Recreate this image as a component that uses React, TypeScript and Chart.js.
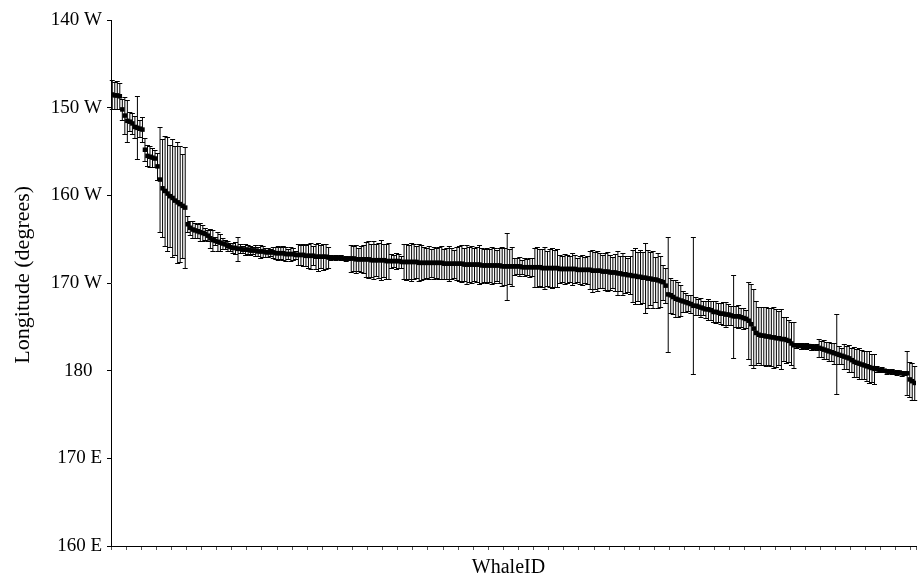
import { useEffect, useRef } from 'react';
import { Chart, registerables } from 'chart.js';

Chart.register(...registerables);

// Longitude in degrees west (180 = dateline, 190 = 170 E, 200 = 160 E), sorted by whale
const means: number[] = [
  148.5, 148.6, 148.6, 148.7, 150.2, 150.9, 151.5, 151.6, 151.8, 152.2,
  152.3, 152.4, 152.5, 154.8, 155.5, 155.6, 155.7, 155.8, 156.7, 158.2,
  159.2, 159.5, 159.8, 160.1, 160.3, 160.6, 160.8, 161.0, 161.2, 161.4,
  163.3, 163.7, 163.9, 164.0, 164.1, 164.2, 164.3, 164.4, 164.6, 164.9,
  165.1, 165.2, 165.3, 165.4, 165.5, 165.6, 165.8, 165.9, 166.0, 166.0,
  166.1, 166.1, 166.2, 166.2, 166.2, 166.3, 166.3, 166.3, 166.4, 166.4,
  166.4, 166.5, 166.5, 166.5, 166.5, 166.6, 166.6, 166.6, 166.6, 166.7,
  166.7, 166.7, 166.7, 166.8, 166.8, 166.8, 166.8, 166.9, 166.9, 166.9,
  166.9, 167.0, 167.0, 167.0, 167.0, 167.0, 167.1, 167.1, 167.1, 167.1,
  167.1, 167.1, 167.2, 167.2, 167.2, 167.2, 167.2, 167.3, 167.3, 167.3,
  167.3, 167.3, 167.3, 167.4, 167.4, 167.4, 167.4, 167.4, 167.4, 167.5,
  167.5, 167.5, 167.5, 167.5, 167.5, 167.6, 167.6, 167.6, 167.6, 167.6,
  167.6, 167.6, 167.7, 167.7, 167.7, 167.7, 167.7, 167.7, 167.7, 167.7,
  167.7, 167.7, 167.8, 167.8, 167.8, 167.8, 167.8, 167.8, 167.8, 167.8,
  167.9, 167.9, 167.9, 167.9, 167.9, 167.9, 167.9, 168.0, 168.0, 168.0,
  168.0, 168.0, 168.0, 168.0, 168.0, 168.1, 168.1, 168.1, 168.1, 168.1,
  168.1, 168.1, 168.1, 168.2, 168.2, 168.2, 168.2, 168.2, 168.2, 168.2,
  168.2, 168.3, 168.3, 168.3, 168.3, 168.3, 168.3, 168.3, 168.4, 168.4,
  168.4, 168.4, 168.4, 168.4, 168.4, 168.5, 168.5, 168.5, 168.5, 168.5,
  168.5, 168.6, 168.6, 168.6, 168.6, 168.7, 168.7, 168.7, 168.8, 168.8,
  168.8, 168.9, 168.9, 169.0, 169.0, 169.1, 169.1, 169.2, 169.2, 169.3,
  169.3, 169.4, 169.4, 169.5, 169.5, 169.6, 169.6, 169.7, 169.8, 169.9,
  170.3, 171.3, 171.4, 171.6, 171.8, 171.9, 172.0, 172.1, 172.2, 172.3,
  172.4, 172.6, 172.6, 172.7, 172.8, 172.9, 173.0, 173.0, 173.1, 173.3,
  173.3, 173.4, 173.5, 173.5, 173.6, 173.6, 173.7, 173.8, 173.8, 173.8,
  173.9, 174.0, 174.1, 174.3, 174.7, 175.2, 175.7, 175.9, 176.0, 176.0,
  176.1, 176.1, 176.2, 176.2, 176.3, 176.3, 176.4, 176.4, 176.5, 176.6,
  176.9, 177.1, 177.1, 177.1, 177.2, 177.2, 177.2, 177.2, 177.3, 177.3,
  177.3, 177.4, 177.5, 177.6, 177.7, 177.8, 177.9, 178.0, 178.1, 178.2,
  178.3, 178.4, 178.5, 178.6, 178.8, 179.0, 179.1, 179.2, 179.3, 179.4,
  179.5, 179.6, 179.7, 179.8, 179.8, 179.9, 179.9, 180.0, 180.1, 180.1,
  180.1, 180.2, 180.2, 180.2, 180.3, 180.3, 180.3, 181.0, 181.2, 181.4,
];

// Half-length of each error bar, in degrees
const errors: number[] = [
  1.6, 1.5, 1.6, 1.5, 1.2, 2.1, 2.4, 1.1, 1.2, 1.3,
  3.6, 1.0, 1.4, 1.3, 1.2, 1.2, 1.1, 1.0, 1.5, 6.0,
  5.6, 6.3, 6.5, 5.8, 6.7, 6.2, 6.9, 6.6, 5.9, 6.9,
  0.9, 0.8, 1.0, 0.9, 0.8, 1.0, 0.9, 0.7, 0.6, 1.1,
  1.2, 0.5, 1.1, 1.0, 0.6, 0.5, 0.6, 0.5, 0.6, 0.7,
  1.4, 0.5, 0.4, 0.6, 0.5, 0.5, 0.4, 0.6, 0.5, 0.7,
  0.6, 0.5, 0.5, 0.4, 0.6, 0.7, 0.8, 0.7, 0.8, 0.8,
  0.6, 0.8, 0.7, 0.5, 1.2, 1.1, 1.3, 1.2, 1.4, 1.5,
  1.1, 1.4, 1.6, 1.3, 1.5, 1.4, 1.2, 0.3, 0.2, 0.3,
  0.2, 0.3, 0.2, 0.3, 0.2, 1.5, 1.4, 1.6, 1.3, 1.5,
  1.6, 2.0, 2.1, 1.9, 2.2, 1.8, 2.0, 2.3, 1.9, 2.0,
  2.1, 0.8, 0.7, 0.9, 0.8, 0.7, 2.0, 2.1, 1.9, 2.2,
  2.0, 1.8, 2.1, 2.0, 1.8, 1.7, 1.9, 1.6, 1.8, 1.7,
  1.8, 1.9, 1.7, 1.8, 2.0, 1.8, 1.6, 1.9, 2.0, 2.1,
  1.9, 2.2, 2.0, 2.1, 1.9, 2.0, 2.2, 2.0, 1.9, 2.0,
  1.9, 2.1, 2.0, 1.8, 2.0, 2.2, 2.1, 3.8, 2.0, 2.2,
  1.0, 0.9, 1.1, 0.8, 1.0, 0.9, 1.1, 1.0, 2.2, 2.3,
  2.1, 2.2, 2.4, 2.0, 2.2, 2.3, 2.1, 2.2, 1.6, 1.5,
  1.7, 1.6, 1.5, 1.8, 1.6, 1.4, 1.6, 1.7, 1.5, 1.6,
  2.2, 2.4, 2.1, 2.3, 2.0, 1.9, 2.1, 2.2, 2.0, 1.8,
  2.1, 2.5, 2.0, 2.4, 2.1, 1.9, 2.2, 3.0, 3.2, 2.8,
  3.1, 2.9, 4.0, 3.3, 3.0, 3.2, 2.6, 3.1, 2.9, 2.0,
  2.0, 6.6, 2.0, 1.9, 2.1, 2.0, 1.8, 1.2, 1.1, 0.9,
  1.0, 7.8, 1.0, 0.9, 1.1, 0.8, 1.0, 1.2, 1.1, 1.2,
  1.3, 1.1, 1.2, 1.3, 1.4, 1.2, 1.1, 4.7, 1.2, 1.3,
  1.1, 1.2, 1.0, 4.4, 4.6, 4.5, 3.6, 3.2, 3.3, 3.3,
  3.4, 3.2, 3.3, 3.5, 3.3, 3.1, 3.4, 2.5, 2.6, 2.4,
  2.5, 2.6, 0.3, 0.2, 0.3, 0.2, 0.3, 0.2, 0.3, 0.2,
  0.3, 1.0, 0.9, 1.1, 1.0, 1.1, 1.0, 1.2, 4.6, 1.0,
  0.9, 1.4, 1.3, 1.5, 1.4, 1.7, 1.6, 1.8, 1.7, 1.6,
  1.7, 1.8, 1.6, 1.7, 0.3, 0.2, 0.3, 0.2, 0.3, 0.2,
  0.3, 0.2, 0.3, 0.2, 0.3, 0.2, 2.5, 2.0, 2.1, 1.9,
];

const yTickValues: number[] = [140, 150, 160, 170, 180, 190, 200];
const yTickLabels: string[] = ['140 W', '150 W', '160 W', '170 W', '180\u00a0\u00a0', '170 E', '160 E'];
const xTickStep = 6;

const FONT = "'Liberation Serif', 'Times New Roman', serif";

const errorBarPlugin = {
  id: 'errorBars',
  beforeDatasetsDraw(chart: any) {
    const { ctx } = chart;
    const xs = chart.scales.x;
    const ys = chart.scales.y;
    const cap = 2.5;
    ctx.save();
    ctx.strokeStyle = '#000';
    ctx.lineWidth = 1;
    ctx.beginPath();
    for (let i = 0; i < means.length; i++) {
      const px = xs.getPixelForValue(i + 0.5);
      const yTop = Math.round(ys.getPixelForValue(means[i] - errors[i])) + 0.5;
      const yBot = Math.round(ys.getPixelForValue(means[i] + errors[i])) + 0.5;
      ctx.moveTo(px, yTop);
      ctx.lineTo(px, yBot);
      ctx.moveTo(px - cap, yTop);
      ctx.lineTo(px + cap, yTop);
      ctx.moveTo(px - cap, yBot);
      ctx.lineTo(px + cap, yBot);
    }
    ctx.stroke();
    ctx.restore();
  },
};

export default function App() {
  const canvasRef = useRef<HTMLCanvasElement | null>(null);

  useEffect(() => {
    const canvas = canvasRef.current;
    if (!canvas) return;
    const points = means.map((m, i) => ({ x: i + 0.5, y: m }));
    const chart = new Chart(canvas, {
      type: 'scatter',
      data: {
        datasets: [
          {
            data: points,
            pointStyle: 'rect',
            pointRadius: 3.2,
            pointHoverRadius: 3.2,
            backgroundColor: '#000',
            borderColor: '#000',
            borderWidth: 0,
            showLine: false,
          },
        ],
      },
      options: {
        responsive: false,
        animation: false,
        events: [],
        layout: { padding: { top: 20, right: 4, left: 0, bottom: 0 } },
        plugins: {
          legend: { display: false },
          tooltip: { enabled: false },
        },
        scales: {
          x: {
            type: 'linear',
            min: 0,
            max: means.length,
            bounds: 'data',
            afterFit: (s: any) => {
              s.height = 31;
            },
            border: { display: true, color: '#000', width: 1 },
            grid: { drawOnChartArea: false, drawTicks: true, tickLength: 4, color: '#555' },
            ticks: { stepSize: xTickStep, includeBounds: false, display: false },
            title: {
              display: true,
              text: 'WhaleID\u00a0\u00a0',
              color: '#000',
              font: { family: FONT, size: 20, lineHeight: 0.9 },
              padding: 0,
            },
          },
          y: {
            type: 'linear',
            min: 140,
            max: 200,
            reverse: true,
            afterFit: (s: any) => {
              s.width = 111;
            },
            border: { display: true, color: '#000', width: 1 },
            grid: { drawOnChartArea: false, drawTicks: true, tickLength: 4, color: '#000' },
            ticks: {
              stepSize: 10,
              autoSkip: false,
              padding: 5,
              color: '#000',
              font: { family: FONT, size: 19 },
              callback: (v: any) => {
                const k = yTickValues.indexOf(Number(v));
                return k >= 0 ? yTickLabels[k] : '';
              },
            },
            title: {
              display: true,
              text: '\u00a0\u00a0\u00a0Longitude (degrees)',
              color: '#000',
              font: { family: FONT, size: 22 },
              padding: { top: 10, bottom: 0 },
            },
          },
        },
      },
      plugins: [errorBarPlugin],
    } as any);
    return () => chart.destroy();
  }, []);

  return (
    <div style={{ position: 'absolute', left: 0, top: 0, width: 920, height: 577, background: '#fff' }}>
      <canvas ref={canvasRef} width={920} height={577} style={{ display: 'block' }} />
    </div>
  );
}
